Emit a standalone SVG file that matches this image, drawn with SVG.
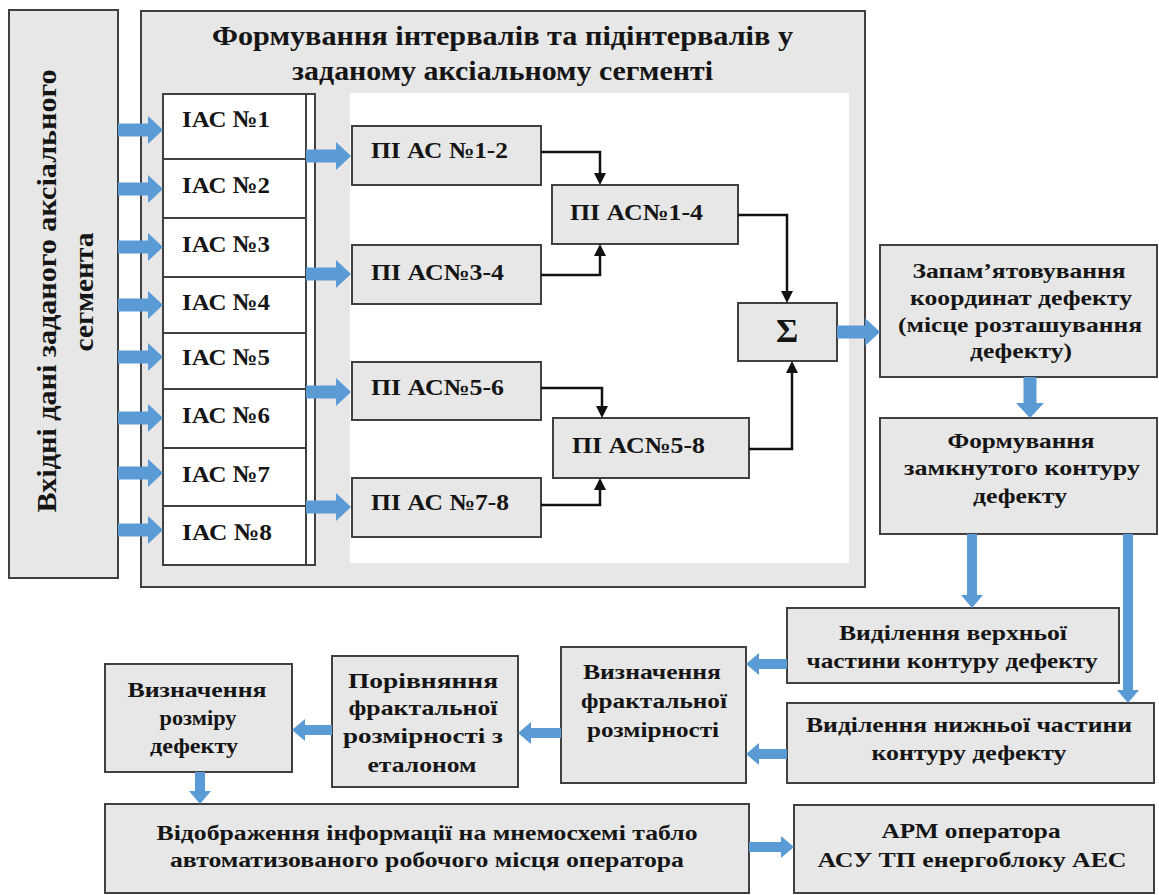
<svg xmlns="http://www.w3.org/2000/svg" width="1159" height="895" viewBox="0 0 1159 895" font-family="'Liberation Serif', 'Times New Roman', serif" font-weight="bold">
<style>
.box{fill:#e7e7e7;stroke:#404040;stroke-width:2}
.wb{fill:#ffffff;stroke:#404040;stroke-width:2}
.ln{stroke:#404040;stroke-width:2;fill:none}
text{font-family:'Liberation Serif', 'Times New Roman', serif;font-weight:bold;fill:#151515}
.t22{font-size:22px;text-anchor:middle}
.t28{font-size:28px;text-anchor:middle}
.iac{font-size:24px}
.pi{font-size:23px}
.bb{stroke:#5b9bd5;stroke-width:13;fill:none;marker-end:url(#bh)}
.bs{stroke:#5b9bd5;stroke-width:10;fill:none;marker-end:url(#sh)}
.k{stroke:#111;stroke-width:2.5;fill:none;marker-end:url(#kh)}
</style>
<defs>
<marker id="bh" markerUnits="userSpaceOnUse" viewBox="0 0 15 28" refX="1" refY="14" markerWidth="15" markerHeight="28" orient="auto"><path d="M0,0 L15,14 L0,28 Z" fill="#5b9bd5"/></marker>
<marker id="sh" markerUnits="userSpaceOnUse" viewBox="0 0 13 22" refX="1" refY="11" markerWidth="13" markerHeight="22" orient="auto"><path d="M0,0 L13,11 L0,22 Z" fill="#5b9bd5"/></marker>
<marker id="kh" markerUnits="userSpaceOnUse" viewBox="0 0 12 12" refX="1" refY="6" markerWidth="12" markerHeight="12" orient="auto"><path d="M0,0 L12,6 L0,12 Z" fill="#111"/></marker>
</defs>
<rect width="1159" height="895" fill="#ffffff"/>

<g id="input">
<rect class="box" x="9" y="10" width="109" height="568"/>
<text class="t28" transform="translate(56,291) rotate(-90)" textLength="443" lengthAdjust="spacingAndGlyphs">Вхідні дані заданого аксіального</text>
<text class="t28" transform="translate(93,292) rotate(-90)" textLength="119" lengthAdjust="spacingAndGlyphs">сегмента</text>
</g>

<g id="forming">
<rect class="box" x="141" y="11" width="724" height="576"/>
<rect x="350" y="93" width="499" height="470" fill="#ffffff"/>
<text class="t28" x="502.5" y="45" textLength="581" lengthAdjust="spacingAndGlyphs">Формування інтервалів та підінтервалів у</text>
<text class="t28" x="502.5" y="80" textLength="421" lengthAdjust="spacingAndGlyphs">заданому аксіальному сегменті</text>
</g>

<g id="iac">
<rect class="wb" x="163" y="94" width="152" height="471"/>
<line class="ln" x1="306" y1="94" x2="306" y2="565"/>
<line class="ln" x1="163" y1="159" x2="306" y2="159"/>
<line class="ln" x1="163" y1="218" x2="306" y2="218"/>
<line class="ln" x1="163" y1="277" x2="306" y2="277"/>
<line class="ln" x1="163" y1="333" x2="306" y2="333"/>
<line class="ln" x1="163" y1="389" x2="306" y2="389"/>
<line class="ln" x1="163" y1="448" x2="306" y2="448"/>
<line class="ln" x1="163" y1="506" x2="306" y2="506"/>
<text class="iac" x="182" y="127" textLength="88" lengthAdjust="spacingAndGlyphs">ІАС №1</text>
<text class="iac" x="182" y="193" textLength="88" lengthAdjust="spacingAndGlyphs">ІАС №2</text>
<text class="iac" x="182" y="252" textLength="88" lengthAdjust="spacingAndGlyphs">ІАС №3</text>
<text class="iac" x="182" y="310" textLength="88" lengthAdjust="spacingAndGlyphs">ІАС №4</text>
<text class="iac" x="182" y="365" textLength="88" lengthAdjust="spacingAndGlyphs">ІАС №5</text>
<text class="iac" x="182" y="423" textLength="88" lengthAdjust="spacingAndGlyphs">ІАС №6</text>
<text class="iac" x="182" y="482" textLength="88" lengthAdjust="spacingAndGlyphs">ІАС №7</text>
<text class="iac" x="182" y="540" textLength="90" lengthAdjust="spacingAndGlyphs">ІАС №8</text>
</g>

<g id="pi12"><rect class="box" x="352" y="126" width="189" height="59"/><text class="pi" x="371" y="158" textLength="137" lengthAdjust="spacingAndGlyphs">ПІ АС №1-2</text></g>
<g id="pi34"><rect class="box" x="352" y="245" width="189" height="59"/><text class="pi" x="371" y="280" textLength="133" lengthAdjust="spacingAndGlyphs">ПІ АС№3-4</text></g>
<g id="pi56"><rect class="box" x="352" y="362" width="189" height="58"/><text class="pi" x="371" y="395" textLength="133" lengthAdjust="spacingAndGlyphs">ПІ АС№5-6</text></g>
<g id="pi78"><rect class="box" x="352" y="478" width="189" height="59"/><text class="pi" x="371" y="510" textLength="138" lengthAdjust="spacingAndGlyphs">ПІ АС №7-8</text></g>
<g id="pi14"><rect class="box" x="552" y="185" width="186" height="59"/><text class="pi" x="570" y="220" textLength="133" lengthAdjust="spacingAndGlyphs">ПІ АС№1-4</text></g>
<g id="pi58"><rect class="box" x="553" y="418" width="196" height="60"/><text class="pi" x="572" y="453" textLength="133" lengthAdjust="spacingAndGlyphs">ПІ АС№5-8</text></g>
<g id="sum"><rect class="box" x="738" y="303" width="99" height="58"/><text x="787" y="342" style="font-size:34px;text-anchor:middle">Σ</text></g>

<g id="memo"><rect class="box" x="880" y="245" width="277" height="132"/>
<text class="t22" x="1019" y="278" textLength="213" lengthAdjust="spacingAndGlyphs">Запам’ятовування</text>
<text class="t22" x="1021" y="305" textLength="222" lengthAdjust="spacingAndGlyphs">координат дефекту</text>
<text class="t22" x="1020" y="332" textLength="244" lengthAdjust="spacingAndGlyphs">(місце розташування</text>
<text class="t22" x="1021" y="358" textLength="102" lengthAdjust="spacingAndGlyphs">дефекту)</text>
</g>
<g id="contour"><rect class="box" x="880" y="418" width="277" height="116"/>
<text class="t22" x="1021" y="448" textLength="147" lengthAdjust="spacingAndGlyphs">Формування</text>
<text class="t22" x="1022" y="475" textLength="236" lengthAdjust="spacingAndGlyphs">замкнутого контуру</text>
<text class="t22" x="1020" y="503" textLength="94" lengthAdjust="spacingAndGlyphs">дефекту</text>
</g>
<g id="upper"><rect class="box" x="787" y="608" width="332" height="75"/>
<text class="t22" x="953" y="640" textLength="228" lengthAdjust="spacingAndGlyphs">Виділення верхньої</text>
<text class="t22" x="952" y="668" textLength="291" lengthAdjust="spacingAndGlyphs">частини контуру дефекту</text>
</g>
<g id="lower"><rect class="box" x="787" y="703" width="367" height="80"/>
<text class="t22" x="969" y="732" textLength="326" lengthAdjust="spacingAndGlyphs">Виділення нижньої частини</text>
<text class="t22" x="969" y="760" textLength="195" lengthAdjust="spacingAndGlyphs">контуру дефекту</text>
</g>
<g id="fractal"><rect class="box" x="561" y="647" width="185" height="136"/>
<text class="t22" x="652" y="679" textLength="138" lengthAdjust="spacingAndGlyphs">Визначення</text>
<text class="t22" x="654" y="708" textLength="146" lengthAdjust="spacingAndGlyphs">фрактальної</text>
<text class="t22" x="653" y="737" textLength="132" lengthAdjust="spacingAndGlyphs">розмірності</text>
</g>
<g id="compare"><rect class="box" x="332" y="656" width="186" height="131"/>
<text class="t22" x="423" y="688" textLength="150" lengthAdjust="spacingAndGlyphs">Порівняння</text>
<text class="t22" x="423" y="715" textLength="149" lengthAdjust="spacingAndGlyphs">фрактальної</text>
<text class="t22" x="423" y="743" textLength="160" lengthAdjust="spacingAndGlyphs">розмірності з</text>
<text class="t22" x="422" y="772" textLength="109" lengthAdjust="spacingAndGlyphs">еталоном</text>
</g>
<g id="size"><rect class="box" x="105" y="664" width="187" height="108"/>
<text class="t22" x="197" y="697" textLength="139" lengthAdjust="spacingAndGlyphs">Визначення</text>
<text class="t22" x="198" y="725" textLength="77" lengthAdjust="spacingAndGlyphs">розміру</text>
<text class="t22" x="194" y="753" textLength="88" lengthAdjust="spacingAndGlyphs">дефекту</text>
</g>
<g id="display"><rect class="box" x="105" y="804" width="644" height="89"/>
<text class="t22" x="427" y="840" textLength="541" lengthAdjust="spacingAndGlyphs">Відображення інформації на мнемосхемі табло</text>
<text class="t22" x="427" y="867" textLength="514" lengthAdjust="spacingAndGlyphs">автоматизованого робочого місця оператора</text>
</g>
<g id="arm"><rect class="box" x="794" y="805" width="360" height="88"/>
<text class="t22" x="971" y="838" textLength="179" lengthAdjust="spacingAndGlyphs">АРМ оператора</text>
<text class="t22" x="972" y="867" textLength="309" lengthAdjust="spacingAndGlyphs">АСУ ТП енергоблоку АЕС</text>
</g>

<g id="connectors">
<line class="bb" x1="118" y1="130" x2="149" y2="130"/>
<line class="bb" x1="118" y1="189" x2="149" y2="189"/>
<line class="bb" x1="118" y1="247" x2="149" y2="247"/>
<line class="bb" x1="118" y1="305" x2="149" y2="305"/>
<line class="bb" x1="118" y1="357" x2="149" y2="357"/>
<line class="bb" x1="118" y1="418" x2="149" y2="418"/>
<line class="bb" x1="118" y1="473" x2="149" y2="473"/>
<line class="bb" x1="118" y1="530" x2="149" y2="530"/>
<line class="bb" x1="306" y1="156" x2="337" y2="156"/>
<line class="bb" x1="306" y1="274" x2="337" y2="274"/>
<line class="bb" x1="306" y1="392" x2="337" y2="392"/>
<line class="bb" x1="306" y1="507" x2="337" y2="507"/>
<path class="k" d="M541,152 H600 V174"/>
<path class="k" d="M541,275 H600 V255"/>
<path class="k" d="M738,215 H787 V292"/>
<path class="k" d="M541,388 H602 V407"/>
<path class="k" d="M541,505 H600 V489"/>
<path class="k" d="M749,449 H792 V372"/>
<line class="bb" x1="837" y1="332" x2="866" y2="332"/>
<line class="bb" x1="1030" y1="377" x2="1030" y2="404"/>
<line class="bs" x1="972" y1="534" x2="972" y2="596"/>
<line class="bs" x1="1128" y1="534" x2="1128" y2="691"/>
<line class="bs" x1="787" y1="664" x2="758" y2="664"/>
<line class="bs" x1="787" y1="754" x2="758" y2="754"/>
<line class="bs" x1="561" y1="733" x2="530" y2="733"/>
<line class="bs" x1="332" y1="730" x2="304" y2="730"/>
<line class="bs" x1="200" y1="772" x2="200" y2="792"/>
<line class="bs" x1="749" y1="847" x2="782" y2="847"/>
</g>
</svg>
